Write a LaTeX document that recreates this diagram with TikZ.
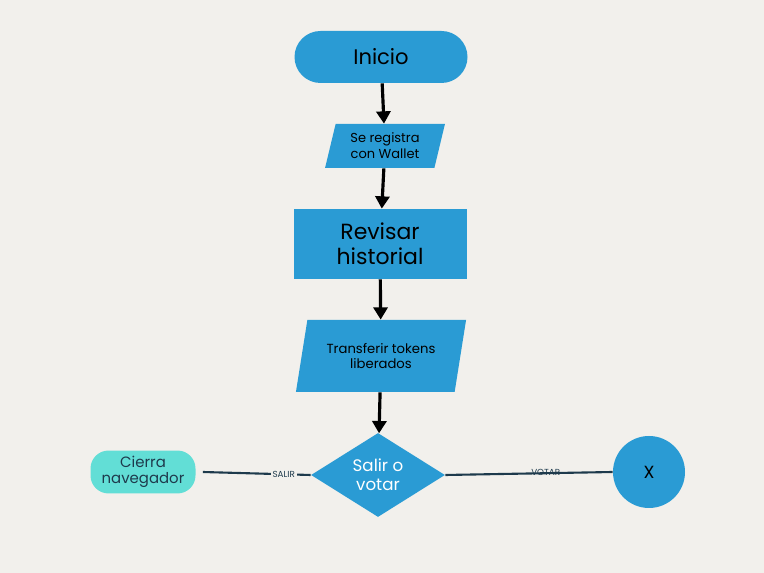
\documentclass[tikz,border=0pt]{standalone}
\usepackage{fontspec}
\setmainfont{Poppins}
\usetikzlibrary{arrows.meta,shapes.geometric,positioning}
\definecolor{fondo}{HTML}{F2F0EC}
\definecolor{azul}{HTML}{2A9BD4}
\definecolor{turquesa}{HTML}{62DED6}
\definecolor{marino}{HTML}{1E3A4C}
\tikzset{
  paso/.style={fill=azul,draw=none,align=center,text=black},
  datos/.style={paso,trapezium,trapezium left angle=74,trapezium right angle=106,trapezium stretches=true,inner sep=0pt},
  flecha/.style={-{Triangle[length=7pt,width=8pt]},line width=1.8pt,black},
  rama/.style={line width=1.2pt,marino},
  etiq/.style={fill=fondo,font=\fontsize{5}{6}\selectfont,text=marino,inner sep=1pt}
}
\begin{document}
\begin{tikzpicture}[x=0.02cm,y=-0.02cm]
 	\fill[fondo] (0,0) rectangle (764,573);
 	\useasboundingbox (0,0) rectangle (764,573);
 	%columna principal
 	\node[paso,rounded corners=26*0.02cm,minimum width=173*0.02cm,minimum height=52*0.02cm,font=\fontsize{12}{14}\selectfont] (inicio) at (381,57) {Inicio};
 	\node[datos,minimum width=120*0.02cm,minimum height=44*0.02cm,font=\fontsize{7.4}{9}\selectfont] (registro) at (385,146) {Se registra\\con Wallet};
 	\node[paso,minimum width=173*0.02cm,minimum height=70*0.02cm,font=\fontsize{12.5}{14}\selectfont] (revisar) at (380,244) {Revisar\\historial};
 	\node[datos,trapezium left angle=72,trapezium right angle=108,minimum width=171*0.02cm,minimum height=72*0.02cm,font=\fontsize{7.5}{9}\selectfont] (transferir) at (381,356) {Transferir tokens\\liberados};
 	\node[paso,diamond,aspect=1.6,minimum width=134*0.02cm,minimum height=84*0.02cm,inner sep=0pt,text=white,font=\fontsize{9.5}{11}\selectfont] (decision) at (378,475) {Salir o\\votar};
 	%ramas
 	\node[fill=turquesa,rounded corners=18*0.02cm,minimum width=105*0.02cm,minimum height=36*0.02cm,align=center,text=marino,font=\fontsize{8.5}{9}\selectfont] (cierra) at (143,472) {Cierra\\navegador};
 	\node[paso,circle,minimum size=72*0.02cm,font=\fontsize{10}{12}\selectfont] (votar) at (649,472) {X};
 	\draw[flecha] (inicio) -- (registro);
 	\draw[flecha] (registro) -- (revisar);
 	\draw[flecha] (revisar) -- (transferir);
 	\draw[flecha] (transferir) -- (decision);
 	\draw[rama] (decision.west) -- node[etiq,pos=0.25]{SALIR} ([xshift=7*0.02cm]cierra.east);
 	\draw[rama] (decision.east) -- node[etiq,pos=0.6,above=-3pt,fill=none]{VOTAR} (votar.west);
\end{tikzpicture}
\end{document}
